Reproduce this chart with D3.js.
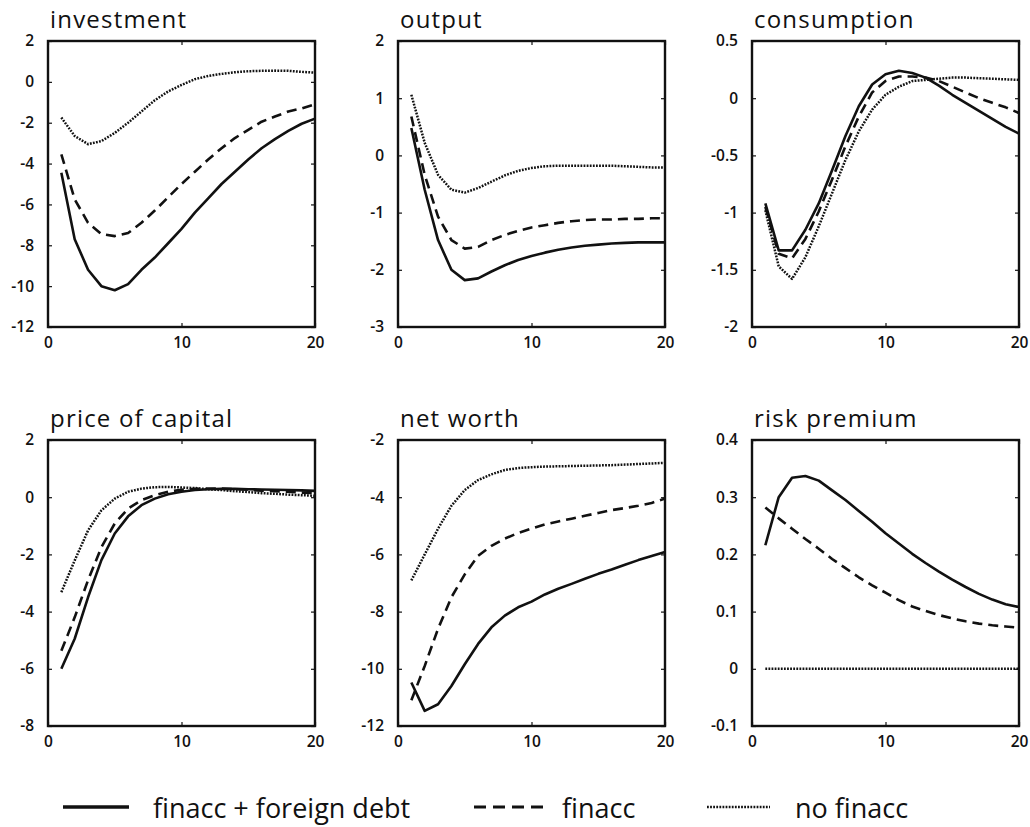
<!DOCTYPE html>
<html>
<head>
<meta charset="utf-8">
<script src="https://cdn.jsdelivr.net/npm/d3@7"></script>
<style>
  html, body { margin: 0; padding: 0; background: #fff; }
  svg { display: block; }
  .tick text { font-family: "Open Sans", sans-serif; font-weight: 600; font-size: 15.5px; fill: #111; }
  .title { font-family: "Open Sans", sans-serif; font-size: 24px; letter-spacing: 1.2px; fill: #111; }
  .legend text { font-family: "Open Sans", sans-serif; font-size: 27px; fill: #111; }
</style>
</head>
<body>
<svg id="chart" width="1030" height="827"></svg>
<script>
// ---- data (horizon 1..20) ----
const periods = [1,2,3,4,5,6,7,8,9,10,11,12,13,14,15,16,17,18,19,20];
const xTicks = [0, 10, 20];
const seriesNames = ["finacc + foreign debt", "finacc", "no finacc"];
const panelTitles = ["investment", "output", "consumption", "price of capital", "net worth", "risk premium"];

const investmentFull    = [-4.45,-7.7,-9.2,-10.0,-10.2,-9.9,-9.2,-8.6,-7.9,-7.2,-6.4,-5.7,-5.0,-4.4,-3.8,-3.25,-2.8,-2.4,-2.05,-1.8];
const investmentFinacc  = [-3.55,-5.75,-6.9,-7.45,-7.55,-7.4,-6.9,-6.3,-5.65,-5.0,-4.4,-3.8,-3.25,-2.75,-2.35,-1.95,-1.7,-1.45,-1.3,-1.1];
const investmentNoFin   = [-1.75,-2.65,-3.05,-2.9,-2.5,-2.0,-1.45,-0.9,-0.47,-0.15,0.13,0.29,0.39,0.47,0.52,0.54,0.55,0.54,0.49,0.45];
const investmentTicks   = [-12,-10,-8,-6,-4,-2,0,2];

const outputFull   = [0.48,-0.6,-1.48,-2.0,-2.18,-2.15,-2.03,-1.92,-1.83,-1.76,-1.7,-1.65,-1.61,-1.58,-1.56,-1.54,-1.53,-1.52,-1.52,-1.52];
const outputFinacc = [0.68,-0.34,-1.07,-1.48,-1.63,-1.6,-1.48,-1.39,-1.32,-1.26,-1.22,-1.18,-1.15,-1.13,-1.12,-1.12,-1.11,-1.11,-1.1,-1.1];
const outputNoFin  = [1.06,0.22,-0.34,-0.6,-0.65,-0.57,-0.46,-0.35,-0.27,-0.22,-0.19,-0.18,-0.18,-0.18,-0.18,-0.18,-0.19,-0.2,-0.21,-0.21];
const outputTicks  = [-3,-2,-1,0,1,2];

const consumptionFull   = [-0.92,-1.33,-1.33,-1.15,-0.92,-0.63,-0.33,-0.07,0.12,0.21,0.24,0.22,0.18,0.11,0.03,-0.04,-0.11,-0.18,-0.25,-0.31];
const consumptionFinacc = [-0.95,-1.36,-1.4,-1.23,-0.99,-0.71,-0.42,-0.16,0.05,0.15,0.19,0.19,0.18,0.15,0.1,0.05,0.0,-0.04,-0.08,-0.13];
const consumptionNoFin  = [-0.98,-1.47,-1.58,-1.39,-1.12,-0.83,-0.54,-0.29,-0.1,0.03,0.1,0.15,0.16,0.17,0.18,0.18,0.175,0.17,0.165,0.16];
const consumptionTicks  = [-2,-1.5,-1,-0.5,0,0.5];

const priceFull   = [-6.0,-4.95,-3.5,-2.2,-1.27,-0.67,-0.28,-0.05,0.1,0.19,0.25,0.28,0.29,0.29,0.28,0.27,0.26,0.25,0.24,0.22];
const priceFinacc = [-5.37,-4.2,-2.9,-1.75,-0.92,-0.4,-0.1,0.07,0.19,0.26,0.29,0.3,0.3,0.28,0.26,0.23,0.21,0.19,0.16,0.14];
const priceNoFin  = [-3.32,-2.21,-1.16,-0.46,-0.05,0.19,0.3,0.35,0.36,0.34,0.32,0.28,0.25,0.21,0.18,0.14,0.12,0.09,0.07,0.05];
const priceTicks  = [-8,-6,-4,-2,0,2];

const netWorthFull   = [-10.48,-11.47,-11.24,-10.6,-9.84,-9.13,-8.55,-8.14,-7.85,-7.65,-7.4,-7.2,-7.03,-6.85,-6.68,-6.53,-6.36,-6.2,-6.06,-5.92];
const netWorthFinacc = [-11.1,-9.9,-8.6,-7.5,-6.7,-6.05,-5.7,-5.45,-5.25,-5.1,-4.95,-4.85,-4.75,-4.65,-4.55,-4.45,-4.38,-4.3,-4.2,-4.05];
const netWorthNoFin  = [-6.91,-6.0,-5.1,-4.3,-3.75,-3.4,-3.2,-3.05,-2.98,-2.95,-2.93,-2.92,-2.91,-2.9,-2.89,-2.88,-2.86,-2.84,-2.82,-2.8];
const netWorthTicks  = [-12,-10,-8,-6,-4,-2];

const riskFull   = [0.216,0.30,0.334,0.337,0.329,0.312,0.295,0.276,0.257,0.237,0.219,0.201,0.185,0.17,0.156,0.143,0.131,0.121,0.113,0.108];
const riskFinacc = [0.282,0.263,0.245,0.227,0.21,0.192,0.176,0.16,0.146,0.133,0.12,0.109,0.101,0.094,0.088,0.083,0.079,0.076,0.074,0.072];
const riskNoFin  = [0,0,0,0,0,0,0,0,0,0,0,0,0,0,0,0,0,0,0,0];
const riskTicks  = [-0.1,0,0.1,0.2,0.3,0.4];

// ---- layout ----
const svg = d3.select("#chart");
const colLeft = [48, 398, 752];
const rowTop = [41, 440];
const pw = 267, ph = 286;

const styles = [
  { width: 2.6, dash: null },
  { width: 2.6, dash: "10,6" },
  { width: 2.5, dash: "1.8,1.3" }
];

const panelData = [
  { series: [investmentFull, investmentFinacc, investmentNoFin], ticks: investmentTicks },
  { series: [outputFull, outputFinacc, outputNoFin], ticks: outputTicks },
  { series: [consumptionFull, consumptionFinacc, consumptionNoFin], ticks: consumptionTicks },
  { series: [priceFull, priceFinacc, priceNoFin], ticks: priceTicks },
  { series: [netWorthFull, netWorthFinacc, netWorthNoFin], ticks: netWorthTicks },
  { series: [riskFull, riskFinacc, riskNoFin], ticks: riskTicks }
];

const fmt = d => String(+d.toFixed(2));

panelData.forEach((p, i) => {
  const left = colLeft[i % 3], top = rowTop[Math.floor(i / 3)];
  const g = svg.append("g").attr("transform", `translate(${left},${top})`);
  const x = d3.scaleLinear().domain([0, 20]).range([0, pw]);
  const y = d3.scaleLinear().domain(d3.extent(p.ticks)).range([ph, 0]);

  // axes (ticks pointing inward on all sides)
  g.append("g").attr("transform", `translate(0,${ph})`)
    .call(d3.axisBottom(x).tickValues(xTicks).tickFormat(fmt).tickSizeInner(-4).tickSizeOuter(0).tickPadding(10));
  g.append("g")
    .call(d3.axisLeft(y).tickValues(p.ticks).tickFormat(fmt).tickSizeInner(-4).tickSizeOuter(0).tickPadding(14));
  g.append("g")
    .call(d3.axisTop(x).tickValues(xTicks).tickFormat("").tickSizeInner(-4).tickSizeOuter(0));
  g.append("g").attr("transform", `translate(${pw},0)`)
    .call(d3.axisRight(y).tickValues(p.ticks).tickFormat("").tickSizeInner(-4).tickSizeOuter(0));
  g.selectAll(".domain").remove();
  g.selectAll(".tick line").attr("stroke", "#111").attr("stroke-width", 1.2);

  const line = d3.line().x((d, k) => x(periods[k])).y(d => y(d));
  p.series.forEach((s, k) => {
    g.append("path").datum(s)
      .attr("d", line)
      .attr("fill", "none")
      .attr("stroke", "#111")
      .attr("stroke-width", styles[k].width)
      .attr("stroke-dasharray", styles[k].dash)
      .attr("stroke-linejoin", "round");
  });

  g.append("rect").attr("x", 0).attr("y", 0).attr("width", pw).attr("height", ph)
    .attr("fill", "none").attr("stroke", "#111").attr("stroke-width", 2.4);

  svg.append("text").attr("class", "title")
    .attr("x", left + 2).attr("y", top - 13)
    .text(panelTitles[i]);
});

// ---- legend ----
const legendItems = [
  { x1: 63, x2: 129, tx: 153 },
  { x1: 474, x2: 543, tx: 562 },
  { x1: 707, x2: 770, tx: 795 }
];
const lg = svg.append("g").attr("class", "legend");
legendItems.forEach((it, k) => {
  lg.append("line").attr("x1", it.x1).attr("x2", it.x2).attr("y1", 807).attr("y2", 807)
    .attr("stroke", "#111").attr("stroke-width", k === 0 ? 3.4 : k === 1 ? 3 : 2.6)
    .attr("stroke-dasharray", k === 0 ? null : k === 1 ? "12,7" : "1.8,1.3");
  lg.append("text").attr("x", it.tx).attr("y", 818).text(seriesNames[k]);
});
</script>
</body>
</html>
